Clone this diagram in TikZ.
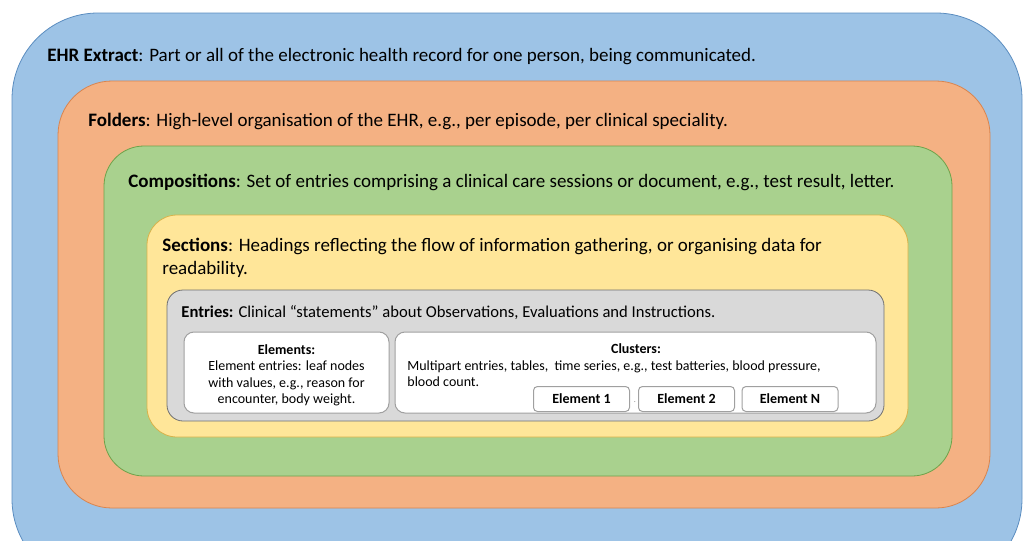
\documentclass[tikz,border=0pt]{standalone}
\usepackage{fontspec}
\setmainfont{Carlito}
\usetikzlibrary{positioning}

\definecolor{ehrblue}{HTML}{9DC3E6}
\definecolor{ehrblueline}{HTML}{5B8DC0}
\definecolor{folderorange}{HTML}{F4B183}
\definecolor{folderline}{HTML}{D9844E}
\definecolor{compgreen}{HTML}{A9D18E}
\definecolor{compline}{HTML}{6FA24A}
\definecolor{sectyellow}{HTML}{FFE699}
\definecolor{sectline}{HTML}{D8B24A}
\definecolor{entrygray}{HTML}{D9D9D9}
\definecolor{entryline}{HTML}{A0A0A0}

\tikzset{
  heading/.style={anchor=west, inner sep=0pt, font=\fontsize{9.5}{11.5}\selectfont, align=left},
  smalltext/.style={inner sep=0pt, font=\fontsize{7}{8.25}\selectfont},
  whitebox/.style={draw=entryline, fill=white, rounded corners=5pt, line width=0.5pt},
  elembox/.style={draw=entryline, fill=white, rounded corners=2pt, line width=0.5pt,
    minimum width=48pt, minimum height=12.5pt, inner sep=0pt, font=\fontsize{7}{8}\selectfont\bfseries}
}

\begin{document}
\begin{tikzpicture}[x=0.5pt,y=-0.5pt]
  \useasboundingbox (0,0) rectangle (1025,541);
  \clip (0,0) rectangle (1025,541);
  % nested layers
  \draw[draw=ehrblueline, fill=ehrblue, rounded corners=43pt] (12,13) rectangle (1022,585);
  \draw[draw=folderline, fill=folderorange, rounded corners=27pt] (58,81) rectangle (990,508);
  \draw[draw=compline, fill=compgreen, rounded corners=20pt] (104,146) rectangle (952,476);
  \draw[draw=sectline, fill=sectyellow, rounded corners=15pt] (147,215) rectangle (908,437);
  \draw[draw=entryline!70!black, fill=entrygray, rounded corners=8pt] (167,290) rectangle (884,421);

  \node[heading] (ehr) at (47,57) {\textbf{EHR Extract}: Part or all of the electronic health record for one person, being communicated.};
  \node[heading] (folders) at (88,121) {\textbf{Folders}: High-level organisation of the EHR, e.g., per episode, per clinical speciality.};
  \node[heading] (compositions) at (128,182) {\textbf{Compositions}: Set of entries comprising a clinical care sessions or document, e.g., test result, letter.};
  \node[heading, anchor=north west] (sections) at (162,238) {\textbf{Sections}: Headings reflecting the flow of information gathering, or organising data for\\readability.};
  \node[heading, font=\fontsize{8.3}{10}\selectfont] (entries) at (181,313) {\textbf{Entries:} Clinical “statements” about Observations, Evaluations and Instructions.};

  % elements and clusters
  \draw[whitebox] (184,332) rectangle (389,413);
  \draw[whitebox] (395,332) rectangle (876,413);
  \node[smalltext, align=center, anchor=north] (elements) at (286.5,344) {\textbf{Elements:}\\Element entries: leaf nodes\\with values, e.g., reason for\\encounter, body weight.};
  \node[smalltext, font=\fontsize{7}{8.25}\selectfont\bfseries] (clusters) at (636,349) {Clusters:};
  \node[smalltext, align=left, anchor=north west] (clustertext) at (407,360) {Multipart entries, tables,\ \ time series, e.g., test batteries, blood pressure,\\blood count.};

  \node[elembox] (elem1) at (581.5,399) {Element 1};
  \node[elembox] (elem2) at (686.5,399) {Element 2};
  \node[elembox] (elemN) at (790,399) {Element N};
  \node[smalltext, font=\fontsize{4}{4}\selectfont, text=gray] (gap) at (635,402) {.};
\end{tikzpicture}
\end{document}
